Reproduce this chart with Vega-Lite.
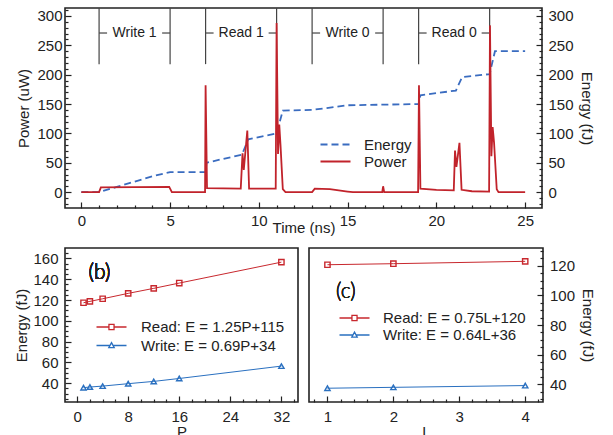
{
  "$schema": "https://vega.github.io/schema/vega-lite/v6.json",
  "padding": {"left": 14, "top": 6, "right": 5, "bottom": 0},
  "background": "white",
  "config": {
    "font": "Liberation Sans",
    "view": {"stroke": "#222", "strokeWidth": 1.6},
    "axis": {"domain": false, "grid": false, "labelFontSize": 15, "titleFontSize": 15, "titleFontWeight": "normal", "labelColor": "#222", "titleColor": "#222", "tickColor": "#222", "tickWidth": 1.2, "labelOverlap": false, "labelBound": false, "labelFlush": false},
    "legend": {"labelFontSize": 15, "labelColor": "#222", "padding": 0}
  },
  "datasets": {
    "power": [
      {"t": 0, "p": 0}, {"t": 1, "p": 0}, {"t": 1.1, "p": 8}, {"t": 3, "p": 8.5}, {"t": 4.95, "p": 9}, {"t": 5.1, "p": 0},
      {"t": 6.97, "p": 0}, {"t": 7.0, "p": 182}, {"t": 7.08, "p": 7}, {"t": 8, "p": 6.5}, {"t": 8.98, "p": 6},
      {"t": 9.08, "p": 66}, {"t": 9.15, "p": 38}, {"t": 9.35, "p": 105}, {"t": 9.45, "p": 6}, {"t": 10, "p": 6},
      {"t": 10.95, "p": 6}, {"t": 11.0, "p": 288}, {"t": 11.08, "p": 65}, {"t": 11.15, "p": 115}, {"t": 11.22, "p": 80},
      {"t": 11.35, "p": 5}, {"t": 11.5, "p": 0}, {"t": 13, "p": 0}, {"t": 13.15, "p": 6}, {"t": 14, "p": 5},
      {"t": 15, "p": 1}, {"t": 15.3, "p": 0}, {"t": 16.95, "p": 0}, {"t": 17.0, "p": 10}, {"t": 17.06, "p": 0},
      {"t": 18.97, "p": 0}, {"t": 19.02, "p": 182}, {"t": 19.1, "p": 6}, {"t": 20, "p": 4}, {"t": 20.98, "p": 3},
      {"t": 21.05, "p": 71}, {"t": 21.13, "p": 43}, {"t": 21.3, "p": 84}, {"t": 21.42, "p": 4}, {"t": 22, "p": 1.5},
      {"t": 22.97, "p": 1}, {"t": 23.02, "p": 284}, {"t": 23.1, "p": 61}, {"t": 23.17, "p": 111}, {"t": 23.25, "p": 84},
      {"t": 23.4, "p": 5}, {"t": 23.5, "p": 0}, {"t": 25, "p": 0}
    ],
    "energy": [
      {"t": 0, "e": 0}, {"t": 1, "e": 0}, {"t": 2, "e": 9}, {"t": 3, "e": 18}, {"t": 4, "e": 27}, {"t": 5, "e": 34},
      {"t": 7, "e": 34}, {"t": 7.05, "e": 50}, {"t": 9.05, "e": 64}, {"t": 9.4, "e": 90}, {"t": 11.0, "e": 100},
      {"t": 11.35, "e": 139}, {"t": 13, "e": 140}, {"t": 15, "e": 148}, {"t": 19, "e": 150}, {"t": 19.1, "e": 165},
      {"t": 21.1, "e": 173}, {"t": 21.45, "e": 196}, {"t": 23, "e": 201}, {"t": 23.3, "e": 240}, {"t": 25, "e": 240}
    ],
    "marks": [{"t": 1}, {"t": 5}, {"t": 7}, {"t": 11}, {"t": 13}, {"t": 17}, {"t": 19}, {"t": 23}],
    "ticks": [
      {"a": 1, "b": 1.45}, {"a": 4.55, "b": 5}, {"a": 7, "b": 7.45}, {"a": 10.55, "b": 11},
      {"a": 13, "b": 13.45}, {"a": 16.55, "b": 17}, {"a": 19, "b": 19.45}, {"a": 22.55, "b": 23}
    ],
    "phases": [{"label": "Write 1", "t": 3}, {"label": "Read 1", "t": 9}, {"label": "Write 0", "t": 15}, {"label": "Read 0", "t": 21}],
    "pdata": [
      {"P": 1, "E": 117.4, "series": "Read"}, {"P": 2, "E": 118.7, "series": "Read"}, {"P": 4, "E": 121.2, "series": "Read"},
      {"P": 8, "E": 126.4, "series": "Read"}, {"P": 12, "E": 131.2, "series": "Read"}, {"P": 16, "E": 136.3, "series": "Read"},
      {"P": 32, "E": 156.4, "series": "Read"},
      {"P": 1, "E": 35.8, "series": "Write"}, {"P": 2, "E": 36.4, "series": "Write"}, {"P": 4, "E": 37.3, "series": "Write"},
      {"P": 8, "E": 39.6, "series": "Write"}, {"P": 12, "E": 41.8, "series": "Write"}, {"P": 16, "E": 44.6, "series": "Write"},
      {"P": 32, "E": 56.5, "series": "Write"}
    ],
    "ldata": [
      {"L": 1, "E": 120.7, "series": "Read"}, {"L": 2, "E": 121.4, "series": "Read"}, {"L": 4, "E": 123.0, "series": "Read"},
      {"L": 1, "E": 37.3, "series": "Write"}, {"L": 2, "E": 37.9, "series": "Write"}, {"L": 4, "E": 39.1, "series": "Write"}
    ]
  },
  "spacing": 11,
  "resolve": {"scale": {"color": "independent"}, "legend": {"color": "independent"}},
  "vconcat": [
    {
      "width": 477,
      "height": 200,
      "layer": [
        {
          "data": {"name": "marks"},
          "mark": {"type": "rule", "color": "#444", "strokeWidth": 1.2},
          "encoding": {
            "x": {"field": "t", "type": "quantitative", "scale": {"domain": [-0.92, 25.95], "nice": false, "zero": false}, "axis": null},
            "y": {"datum": 218, "type": "quantitative", "scale": {"domain": [-27, 313.6], "nice": false, "zero": false},
              "axis": {"orient": "left", "values": [-20,-10,10,20,30,40,60,70,80,90,110,120,130,140,160,170,180,190,210,220,230,240,260,270,280,290,310],
                "labels": false, "tickSize": -3, "title": null}},
            "y2": {"datum": 313.6}
          }
        },
        {
          "data": {"name": "ticks"},
          "mark": {"type": "rule", "color": "#444", "strokeWidth": 1.2},
          "encoding": {
            "x": {"field": "a", "type": "quantitative", "axis": null},
            "x2": {"field": "b"},
            "y": {"datum": 271, "type": "quantitative", "scale": {"domain": [-27, 313.6], "nice": false, "zero": false}, "axis": null}
          }
        },
        {
          "data": {"name": "phases"},
          "mark": {"type": "text", "fontSize": 14, "color": "#222", "baseline": "middle"},
          "encoding": {
            "x": {"field": "t", "type": "quantitative", "axis": null},
            "y": {"datum": 271, "type": "quantitative", "scale": {"domain": [-27, 313.6], "nice": false, "zero": false},
              "axis": {"orient": "right", "values": [-20,-10,10,20,30,40,60,70,80,90,110,120,130,140,160,170,180,190,210,220,230,240,260,270,280,290,310],
                "labels": false, "tickSize": -3, "title": null}},
            "text": {"field": "label"}
          }
        },
        {
          "data": {"name": "energy"},
          "mark": {"type": "line", "strokeWidth": 1.8, "strokeDash": [7, 4]},
          "encoding": {
            "x": {"field": "t", "type": "quantitative",
              "axis": {"orient": "bottom", "values": [1,2,3,4,6,7,8,9,11,12,13,14,16,17,18,19,21,22,23,24], "labels": false, "tickSize": -3, "title": null}},
            "y": {"field": "e", "type": "quantitative", "scale": {"domain": [-27, 313.6], "nice": false, "zero": false},
              "axis": {"orient": "right", "values": [0,50,100,150,200,250,300], "tickSize": -6,
                "labelPadding": 12, "title": "Energy (fJ)", "titlePadding": 5}},
            "color": {"datum": "Energy", "type": "nominal"}
          }
        },
        {
          "data": {"name": "power"},
          "mark": {"type": "line", "strokeWidth": 1.8},
          "encoding": {
            "x": {"field": "t", "type": "quantitative",
              "axis": {"orient": "bottom", "values": [0,5,10,15,20,25], "tickSize": -6,
                "labelPadding": 11, "title": "Time (ns)", "titlePadding": -8}},
            "y": {"field": "p", "type": "quantitative", "scale": {"domain": [-27, 313.6], "nice": false, "zero": false},
              "axis": {"orient": "left", "values": [0,50,100,150,200,250,300], "tickSize": -6,
                "labelPadding": 9, "title": "Power (uW)", "titlePadding": 5}},
            "color": {"datum": "Power", "type": "nominal",
              "scale": {"domain": ["Energy", "Power"], "range": ["#3a6cc0", "#c1232b"]},
              "legend": {"title": null, "orient": "none", "legendX": 263, "legendY": 129,
                "symbolType": "M-5,0H5", "symbolSize": 36, "labelOffset": 21, "rowPadding": 1, "symbolStrokeWidth": 1.8,
                "encode": {"symbols": {"update": {"strokeDash": {"signal": "datum.value === 'Energy' ? [7,4] : [1,0]"}, "fill": {"value": "transparent"}}}}}}
          }
        },
        {
          "mark": {"type": "text", "fontSize": 21, "font": "Lato", "fontWeight": 300, "color": "#222"},
          "encoding": {
            "x": {"datum": 0.97, "type": "quantitative", "axis": null},
            "y": {"datum": 125, "type": "quantitative", "scale": {"domain": [-27, 313.6], "nice": false, "zero": false}, "axis": null},
            "text": {"value": "(a)"}
          }
        }
      ],
      "resolve": {"scale": {"y": "independent"}, "axis": {"x": "independent"}}
    },
    {
      "spacing": 9,
      "resolve": {"scale": {"color": "independent"}, "legend": {"color": "independent"}},
      "hconcat": [
        {
          "width": 233,
          "height": 154,
          "data": {"name": "pdata"},
          "resolve": {"axis": {"x": "independent", "y": "independent"}},
          "layer": [
            {
              "mark": {"type": "line", "strokeWidth": 1},
              "encoding": {
                "x": {"field": "P", "type": "quantitative", "scale": {"domain": [-1.9, 34.6], "nice": false, "zero": false},
                  "axis": {"orient": "bottom", "values": [0,8,16,24,32], "tickSize": -6, "labelPadding": 13, "title": "P", "titlePadding": 0}},
                "y": {"field": "E", "type": "quantitative", "scale": {"domain": [22, 170], "nice": false, "zero": false},
                  "axis": {"orient": "left", "values": [40,60,80,100,120,140,160], "tickSize": -6, "labelPadding": 13, "title": "Energy (fJ)", "titlePadding": 3}},
                "color": {"field": "series", "type": "nominal",
                  "scale": {"domain": ["Read", "Write"], "range": ["#c8282e", "#2a70c0"]},
                  "legend": {"title": null, "orient": "none", "legendX": 39, "legendY": 71.5,
                    "symbolSize": 36, "labelOffset": 22, "rowPadding": 2.5, "symbolStrokeWidth": 1.3,
                    "labelExpr": "datum.value === 'Read' ? 'Read: E = 1.25P+115' : 'Write: E = 0.69P+34'",
                    "encode": {"symbols": {"update": {"shape": {"signal": "datum.value === 'Read' ? 'M-5,0H-0.85M0.85,0H5M-0.85,-0.85H0.85V0.85H-0.85Z' : 'M-5,0H-0.5M0.5,0H5M0,-0.95L0.9,0.7H-0.9Z'"}, "fill": {"value": "transparent"}}}}}}
              }
            },
            {
              "transform": [{"filter": "datum.series === 'Read'"}],
              "mark": {"type": "point", "shape": "square", "filled": false, "strokeWidth": 1.4, "size": 28, "opacity": 1, "color": "#c8282e"},
              "encoding": {
                "x": {"field": "P", "type": "quantitative",
                  "axis": {"orient": "bottom", "values": [2,4,6,10,12,14,18,20,22,26,28,30,34], "labels": false, "tickSize": -3, "title": null}},
                "y": {"field": "E", "type": "quantitative",
                  "axis": {"orient": "left", "values": [25,30,35,45,50,55,65,70,75,85,90,95,105,110,115,125,130,135,145,150,155,165], "labels": false, "tickSize": -3, "title": null}}
              }
            },
            {
              "transform": [{"filter": "datum.series === 'Write'"}],
              "mark": {"type": "point", "shape": "triangle-up", "filled": false, "strokeWidth": 1.4, "size": 28, "opacity": 1, "color": "#2a70c0"},
              "encoding": {
                "x": {"field": "P", "type": "quantitative", "axis": null},
                "y": {"field": "E", "type": "quantitative", "axis": null}
              }
            },
            {
              "mark": {"type": "text", "fontSize": 21, "font": "Lato", "fontWeight": 300, "color": "#222"},
              "encoding": {
                "x": {"datum": 3.5, "type": "quantitative", "axis": null},
                "y": {"datum": 146.4, "type": "quantitative", "axis": null},
                "text": {"value": "(b)"}
              }
            }
          ]
        },
        {
          "width": 234,
          "height": 154,
          "data": {"name": "ldata"},
          "resolve": {"axis": {"x": "independent", "y": "independent"}},
          "layer": [
            {
              "mark": {"type": "line", "strokeWidth": 1},
              "encoding": {
                "x": {"field": "L", "type": "quantitative", "scale": {"domain": [0.72, 4.27], "nice": false, "zero": false},
                  "axis": {"orient": "bottom", "values": [1,2,3,4], "format": "d", "tickSize": -6, "labelPadding": 13, "title": "L", "titlePadding": 0}},
                "y": {"field": "E", "type": "quantitative", "scale": {"domain": [28, 132], "nice": false, "zero": false},
                  "axis": {"orient": "right", "values": [40,60,80,100,120], "tickSize": -6, "labelPadding": 12.5, "title": "Energy (fJ)", "titlePadding": 5}},
                "color": {"field": "series", "type": "nominal",
                  "scale": {"domain": ["Read", "Write"], "range": ["#c8282e", "#2a70c0"]},
                  "legend": {"title": null, "orient": "none", "legendX": 38, "legendY": 62.5,
                    "symbolSize": 36, "labelOffset": 21, "rowPadding": 1, "symbolStrokeWidth": 1.3,
                    "labelExpr": "datum.value === 'Read' ? 'Read: E = 0.75L+120' : 'Write: E = 0.64L+36'",
                    "encode": {"symbols": {"update": {"shape": {"signal": "datum.value === 'Read' ? 'M-5,0H-0.85M0.85,0H5M-0.85,-0.85H0.85V0.85H-0.85Z' : 'M-5,0H-0.5M0.5,0H5M0,-0.95L0.9,0.7H-0.9Z'"}, "fill": {"value": "transparent"}}}}}}
              }
            },
            {
              "transform": [{"filter": "datum.series === 'Read'"}],
              "mark": {"type": "point", "shape": "square", "filled": false, "strokeWidth": 1.4, "size": 28, "opacity": 1, "color": "#c8282e"},
              "encoding": {
                "x": {"field": "L", "type": "quantitative",
                  "axis": {"orient": "bottom", "values": [0.8,1.2,1.4,1.6,1.8,2.2,2.4,2.6,2.8,3.2,3.4,3.6,3.8,4.2], "labels": false, "tickSize": -3, "title": null}},
                "y": {"field": "E", "type": "quantitative",
                  "axis": {"orient": "right", "values": [30,35,45,50,55,65,70,75,85,90,95,105,110,115,125,130], "labels": false, "tickSize": -3, "title": null}}
              }
            },
            {
              "transform": [{"filter": "datum.series === 'Write'"}],
              "mark": {"type": "point", "shape": "triangle-up", "filled": false, "strokeWidth": 1.4, "size": 28, "opacity": 1, "color": "#2a70c0"},
              "encoding": {
                "x": {"field": "L", "type": "quantitative", "axis": null},
                "y": {"field": "E", "type": "quantitative", "axis": null}
              }
            },
            {
              "mark": {"type": "text", "fontSize": 21, "font": "Lato", "fontWeight": 300, "color": "#222"},
              "encoding": {
                "x": {"datum": 1.28, "type": "quantitative", "axis": null},
                "y": {"datum": 102, "type": "quantitative", "axis": null},
                "text": {"value": "(c)"}
              }
            }
          ]
        }
      ]
    }
  ]
}
